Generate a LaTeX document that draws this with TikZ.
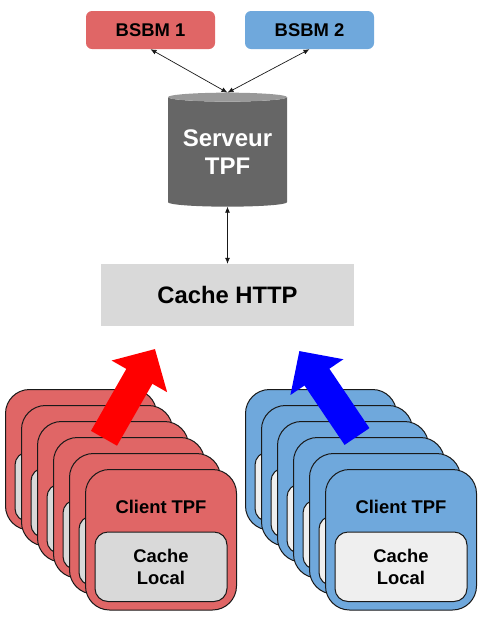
\documentclass[tikz,border=0pt]{standalone}
\usepackage{fontspec}
\setmainfont{Liberation Sans}
\usepackage{tikz}
\usetikzlibrary{positioning, arrows.meta, shapes.geometric}

\definecolor{bsbmred}{HTML}{E06666}
\definecolor{bsbmblue}{HTML}{6FA8DC}
\definecolor{cachegrey}{HTML}{D9D9D9}
\definecolor{cachelight}{HTML}{EFEFEF}
\definecolor{serveurgrey}{HTML}{666666}

\tikzset{
    bsbm/.style={rectangle, rounded corners=6pt, minimum width=129pt, minimum height=38pt, inner sep=0pt, font=\fontsize{18.4}{22}\selectfont\bfseries},
    client/.style={draw=black!90, line width=1pt, rectangle, rounded corners=24pt, minimum width=151pt, minimum height=140.5pt, inner sep=0pt},
    cachelocal/.style={draw=black!90, line width=1pt, rectangle, rounded corners=13pt, minimum width=132pt, minimum height=69.5pt, inner sep=0pt, align=center, font=\fontsize{18.4}{22}\selectfont\bfseries},
    link/.style={{Latex[length=6pt, width=5pt]}-{Latex[length=6pt, width=5pt]}, line width=0.7pt, black!90},
    bigarrow/.style={line width=30pt, -{Triangle[length=31.5pt, width=62pt]}}
}

\begin{document}
\begin{tikzpicture}[x=1pt, y=-1pt]
    \useasboundingbox (0,0) rectangle (482,619);

    \node [bsbm, fill=bsbmred] (bsbm1) at (150.5,30) {BSBM 1};
    \node [bsbm, fill=bsbmblue] (bsbm2) at (309.5,30) {BSBM 2};

    \node [cylinder, shape border rotate=90, aspect=0.1, cylinder uses custom fill, cylinder body fill=serveurgrey, cylinder end fill=black!40, minimum width=119pt, minimum height=114pt, inner sep=0pt, outer sep=0pt, align=center, text=white, font=\fontsize{24}{28}\selectfont\bfseries] (serveur) at (227.5,152) {Serveur\\TPF};

    \node [fill=cachegrey, minimum width=253pt, minimum height=62pt, inner sep=0pt, font=\fontsize{23.8}{28}\selectfont\bfseries] (cache) at (227.5,295) {Cache HTTP};

    \draw [link] (bsbm1.south) -- (serveur.north);
    \draw [link] (bsbm2.south) -- (serveur.north);
    \draw [link] (serveur.south) -- (cache.north);

    % Client stacks, back to front
    \foreach \k/\startx/\fillc/\innerc in {r/81/bsbmred/cachegrey, b/321/bsbmblue/cachelight} {
        \foreach \i in {0,...,4} {
            \node [client, fill=\fillc] (card\k\i) at (\startx+16*\i,459.75+16*\i) {};
            \node [cachelocal, fill=\innerc, below=27pt of card\k\i.center, anchor=center] (local\k\i) {};
        }
        \node [client, fill=\fillc] (card\k5) at (\startx+80,539.75) {};
        \node [cachelocal, fill=\innerc, below=27pt of card\k5.center, anchor=center] (local\k5) {Cache\\Local};
        \node [above=14pt of local\k5, font=\fontsize{18.4}{22}\selectfont\bfseries] (label\k) {Client TPF};
    }

    % Big arrows
    \coordinate (redtail) at (104,438.3);
    \coordinate (redtip) at (155,349);
    \coordinate (bluetail) at (357,436.5);
    \coordinate (bluetip) at (299.3,351);
    \draw [bigarrow, red] (redtail) -- (redtip);
    \draw [bigarrow, blue] (bluetail) -- (bluetip);
\end{tikzpicture}
\end{document}
